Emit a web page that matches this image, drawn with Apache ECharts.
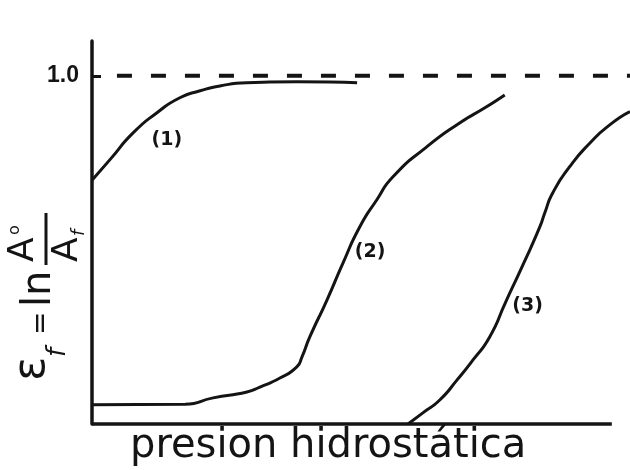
<!DOCTYPE html>
<html>
<head>
<meta charset="utf-8">
<style>
  html, body { margin: 0; padding: 0; background: #ffffff; }
  #chart { width: 630px; height: 470px; }
</style>
<script src="https://cdn.jsdelivr.net/npm/echarts@6/dist/echarts.min.js"></script>
</head>
<body>
<div id="chart"></div>
<script>
// Curve (1): starts high and saturates just under 1.0
const curve1X = [0, 3.5, 7.9, 12.5, 16.9, 20.8, 24.6, 29.8, 39.4, 51];
const curve1Y = [0.70, 0.76, 0.836, 0.894, 0.937, 0.957, 0.971, 0.980, 0.983, 0.980];

// Curve (2): flat near zero, then a steep rise
const curve2X = [0, 17.9, 23.3, 29.8, 32.3, 36.15, 39.4, 40.4, 41.9, 45.2, 48.3, 51.5, 54.8, 57.9, 64.4, 70.8, 75.9, 79.4];
const curve2Y = [0.055, 0.057, 0.075, 0.092, 0.106, 0.132, 0.164, 0.193, 0.250, 0.356, 0.463, 0.566, 0.644, 0.710, 0.796, 0.865, 0.911, 0.945];

// Curve (3): leaves the axis at higher pressure
const curve3X = [60.8, 63.65, 66.9, 70.2, 73.3, 76.5, 79.6, 82.9, 86.15, 87.1, 88.65, 91.9, 95.8, 99.6, 103.5];
const curve3Y = [0, 0.032, 0.069, 0.126, 0.184, 0.250, 0.351, 0.457, 0.566, 0.606, 0.664, 0.739, 0.807, 0.859, 0.897];

// Saturation level drawn dashed
const limitX = [4.8, 104];
const limitY = [1.0, 1.0];

// Horizontal axis baseline extent
const baseX = [0, 100];

// Curve tags
const tagNames = ['(1)', '(2)', '(3)'];
const tagX = [14.4, 53.5, 83.8];
const tagY = [0.816, 0.494, 0.339];

// Axis ticks and titles
const yTickValues = [1.0];
const xTitle = 'presion hidrostática';

const ink = '#141414';
const zip = (xs, ys) => xs.map((x, i) => [x, ys[i]]);

const chart = echarts.init(document.getElementById('chart'), null, { renderer: 'canvas' });

const curveSeries = (xs, ys) => ({
  type: 'line',
  data: zip(xs, ys),
  smooth: 0.6,
  showSymbol: false,
  clip: false,
  silent: true,
  lineStyle: { color: ink, width: 3 }
});

const option = {
  backgroundColor: '#ffffff',
  animation: false,
  grid: { left: 92, right: 0, top: 41, bottom: 46 },
  xAxis: {
    type: 'value',
    min: 0,
    max: 103.5,
    axisLine: { show: false },
    axisTick: { show: false },
    axisLabel: { show: false },
    splitLine: { show: false }
  },
  yAxis: {
    type: 'value',
    min: 0,
    max: 1.1,
    axisLine: { show: true, onZero: false, lineStyle: { color: ink, width: 3.5 } },
    axisTick: {
      show: true, inside: true, length: 9,
      customValues: yTickValues,
      lineStyle: { color: ink, width: 3 }
    },
    axisLabel: {
      show: true,
      customValues: yTickValues,
      formatter: v => Number(v).toFixed(1),
      fontFamily: '"Liberation Sans Narrow", "Liberation Sans"',
      fontWeight: 'bold',
      fontSize: 23,
      color: ink,
      margin: 13
    },
    splitLine: { show: false }
  },
  series: [
    curveSeries(curve1X, curve1Y),
    curveSeries(curve2X, curve2Y),
    curveSeries(curve3X, curve3Y),
    {
      type: 'line',
      data: zip(limitX, limitY),
      showSymbol: false,
      clip: false,
      silent: true,
      lineStyle: { color: ink, width: 4, type: [15, 19] },
      markLine: {
        silent: true,
        symbol: 'none',
        label: { show: false },
        lineStyle: { color: ink, width: 3.5, type: 'solid' },
        data: [[{ coord: [baseX[0], 0] }, { coord: [baseX[1], 0] }]]
      }
    },
    {
      type: 'scatter',
      data: tagNames.map((n, i) => ({ name: n, value: [tagX[i], tagY[i]] })),
      symbolSize: 1,
      itemStyle: { color: '#ffffff', opacity: 1 },
      silent: true,
      label: {
        show: true,
        position: 'inside',
        formatter: '{b}',
        fontFamily: 'DejaVu Sans',
        fontWeight: 'bold',
        fontSize: 19,
        color: ink,
        textBorderWidth: 0
      }
    }
  ],
  graphic: [
    {
      type: 'text',
      left: 130,
      top: 427,
      style: {
        text: xTitle,
        font: '40px "DejaVu Sans"',
        fill: ink
      }
    },
    {
      // vertical title: ε_f = ln A0/Af, read bottom to top
      type: 'group',
      x: 0,
      y: 385,
      rotation: Math.PI / 2,
      children: [
        { type: 'text', x: 4, y: 32, style: { text: 'ε', font: '45px "DejaVu Sans"', fill: ink, verticalAlign: 'middle' } },
        { type: 'text', x: 28, y: 58, style: { text: 'f', font: 'italic 26px "DejaVu Sans"', fill: ink, verticalAlign: 'middle' } },
        { type: 'text', x: 50, y: 42, style: { text: '=', font: '28px "DejaVu Sans"', fill: ink, verticalAlign: 'middle' } },
        { type: 'text', x: 78, y: 40, style: { text: 'ln', font: '40px "DejaVu Sans"', fill: ink, verticalAlign: 'middle' } },
        { type: 'line', shape: { x1: 120, y1: 46, x2: 172, y2: 46 }, style: { stroke: ink, lineWidth: 3 } },
        { type: 'text', x: 123, y: 24, style: { text: 'A', font: '36px "DejaVu Sans"', fill: ink, verticalAlign: 'middle' } },
        { type: 'text', x: 150, y: 15, style: { text: 'o', font: '16px "DejaVu Sans"', fill: ink, verticalAlign: 'middle' } },
        { type: 'text', x: 123, y: 68, style: { text: 'A', font: '36px "DejaVu Sans"', fill: ink, verticalAlign: 'middle' } },
        { type: 'text', x: 149, y: 79, style: { text: 'f', font: 'italic 18px "DejaVu Sans"', fill: ink, verticalAlign: 'middle' } }
      ]
    }
  ]
};

chart.setOption(option);
</script>
</body>
</html>
